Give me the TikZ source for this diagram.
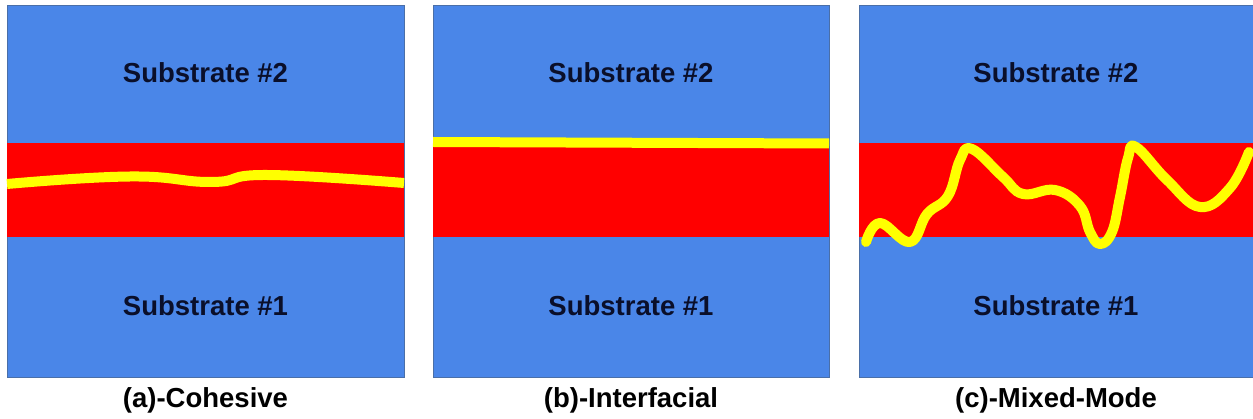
\documentclass[tikz,border=0pt]{standalone}
\usepackage{fontspec}
\setmainfont{Liberation Sans}
\definecolor{subblue}{HTML}{4A86E8}
\definecolor{edgeblue}{HTML}{4A6FA8}
\definecolor{bandred}{HTML}{FF0000}
\definecolor{crackyellow}{HTML}{FFFF00}
\definecolor{txtdark}{HTML}{0A0F2A}
\begin{document}
\begin{tikzpicture}[x=1pt,y=-1pt,
  substrate/.style={fill=subblue,draw=edgeblue,line width=0.6pt},
  band/.style={fill=bandred},
  crack/.style={draw=crackyellow,line width=10pt},
  subtext/.style={font=\fontsize{27.5}{30}\selectfont\bfseries,text=txtdark,inner sep=0pt,anchor=base},
  caption/.style={font=\fontsize{27.5}{30}\selectfont\bfseries,text=black,inner sep=0pt,anchor=base}]
\useasboundingbox (0,0) rectangle (1253,419);
\fill[white] (0,0) rectangle (1253,419);
% panel a
\draw[substrate] (7,5) rectangle (404,377);
\fill[band] (7,143) rectangle (404,237);
\draw[crack,line cap=butt] plot[smooth,tension=0.8] coordinates {(7,184) (130,176.5) (212,182) (267,175) (404,183)};
\node[subtext] (a2) at (205.5,83) {Substrate \#2};
\node[subtext] (a1) at (205.5,316) {Substrate \#1};
\node[caption] (ca) at (205.5,408) {(a)-Cohesive};
% panel b
\draw[substrate] (433,5) rectangle (829,377);
\fill[band] (433,143) rectangle (829,237);
\draw[crack,line cap=butt] (433,142) -- (829,143.5);
\node[subtext] (b2) at (631,83) {Substrate \#2};
\node[subtext] (b1) at (631,316) {Substrate \#1};
\node[caption] (cb) at (631,408) {(b)-Interfacial};
% panel c
\draw[substrate] (859,5) rectangle (1253,377);
\fill[band] (859,143) rectangle (1253,237);
\draw[crack,line cap=round,line join=round] plot[smooth,tension=0.7] coordinates {(866,242) (880,223) (910,242) (927,214) (948,196) (960,160) (972,149) (1003,177) (1023,194) (1055,190) (1080,206) (1090,232) (1100,244) (1112,232) (1120,197) (1128,158) (1136,147) (1167,180) (1200,207) (1230,188) (1249,152)};
\node[subtext] (c2) at (1056,83) {Substrate \#2};
\node[subtext] (c1) at (1056,316) {Substrate \#1};
\node[caption] (cc) at (1056,408) {(c)-Mixed-Mode};
\end{tikzpicture}
\end{document}
